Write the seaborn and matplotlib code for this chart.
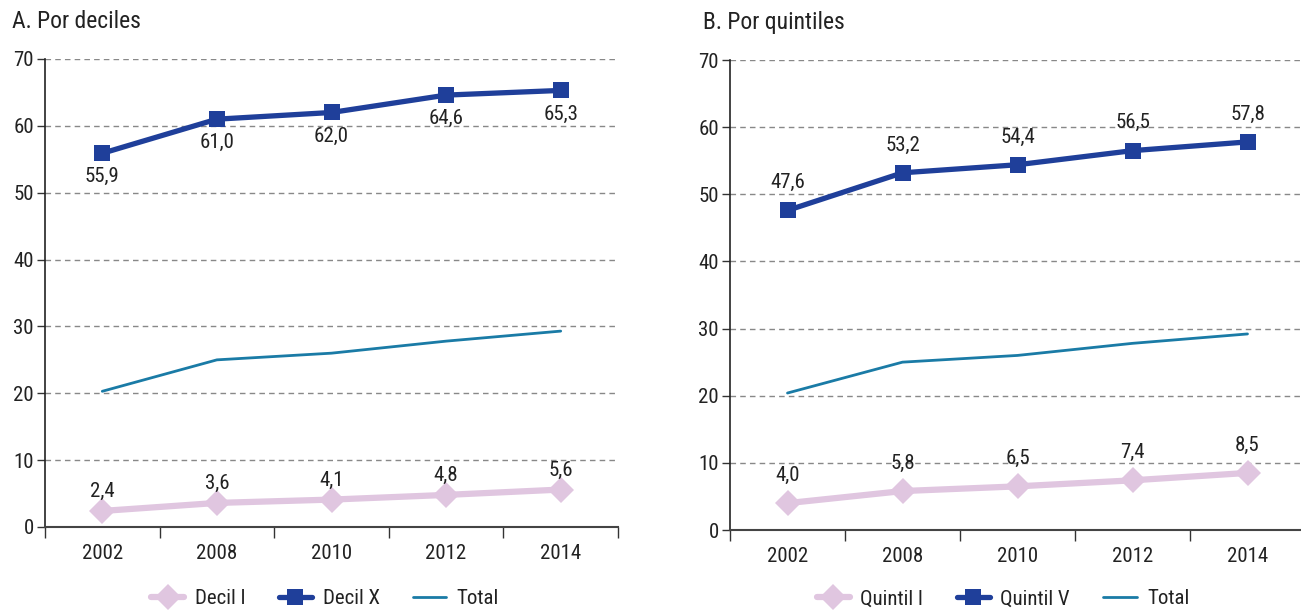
import matplotlib
matplotlib.use("Agg")
import matplotlib.pyplot as plt
import seaborn as sns
import pandas as pd

years = ["2002", "2008", "2010", "2012", "2014"]
decil_i = [2.4, 3.6, 4.1, 4.8, 5.6]
decil_x = [55.9, 61.0, 62.0, 64.6, 65.3]
total_a = [20.3, 25.0, 26.0, 27.8, 29.3]
quintil_i = [4.0, 5.8, 6.5, 7.4, 8.5]
quintil_v = [47.6, 53.2, 54.4, 56.5, 57.8]
total_b = [20.4, 25.0, 26.0, 27.8, 29.2]
yticks = [0, 10, 20, 30, 40, 50, 60, 70]

sns.set_theme(style="white")
plt.rcParams['font.family'] = ['Liberation Sans Narrow', 'Roboto Condensed', 'DejaVu Sans']
plt.rcParams['text.color'] = '#222222'

C_LOW = "#E0C6E0"
C_HIGH = "#1F3F9A"
C_TOT = "#1A7BA6"
FS = 15

fig = plt.figure(figsize=(13.01, 6.10), dpi=100)
axA = fig.add_axes([45/1301, 1-527/610, (618-45)/1301, (527-59)/610])
axB = fig.add_axes([730/1301, 1-530/610, (1305-730)/1301, (530-60)/610])

def fmt(v):
    return f"{v:.1f}".replace(".", ",")

def panel(ax, low, high, tot, low_name, high_name, high_above, low_off, high_off):
    df = pd.DataFrame({"year": years, low_name: low, high_name: high, "Total": tot})
    sns.lineplot(data=df, x="year", y=low_name, ax=ax, color=C_LOW, lw=4.5,
                 marker="D", markersize=13, markeredgewidth=0, label=low_name, sort=False)
    sns.lineplot(data=df, x="year", y=high_name, ax=ax, color=C_HIGH, lw=3.8,
                 marker="s", markersize=11.5, markeredgewidth=0, label=high_name, sort=False)
    sns.lineplot(data=df, x="year", y="Total", ax=ax, color=C_TOT, lw=2.0,
                 label="Total", sort=False)
    for i, v in enumerate(low):
        ax.annotate(fmt(v), (i, v), xytext=(0, low_off), textcoords="offset points",
                    ha="center", va="center", fontsize=FS)
    for i, v in enumerate(high):
        off = high_off if high_above else -high_off
        ax.annotate(fmt(v), (i, v), xytext=(0, off), textcoords="offset points",
                    ha="center", va="center", fontsize=FS)
    ax.set_xlim(-0.5, 4.5)
    ax.set_ylim(0, 70)
    ax.set_yticks(yticks)
    ax.set_xticks(range(len(years)))
    ax.set_xticklabels(years)
    ax.set_xticks([i - 0.5 for i in range(len(years) + 1)], minor=True)
    ax.tick_params(axis="x", which="major", length=0, labelsize=FS, pad=12, colors="#222222")
    ax.tick_params(axis="x", which="minor", length=8, width=1.0, color="#333333", direction="out", bottom=True)
    ax.tick_params(axis="y", length=6, width=1.0, color="#333333", direction="out", left=True,
                   labelsize=FS, pad=2, colors="#222222")
    ax.set_xlabel("")
    ax.set_ylabel("")
    for y in yticks[1:]:
        ax.axhline(y, color="#888888", lw=1.0, ls=(0, (4, 3)), zorder=0)
    for s in ["top", "right"]:
        ax.spines[s].set_visible(False)
    ax.spines["left"].set_color("#222222")
    ax.spines["left"].set_linewidth(1.2)
    ax.spines["bottom"].set_color("#444444")
    ax.spines["bottom"].set_linewidth(1.5)
    ax.get_legend().remove()
    h, l = ax.get_legend_handles_labels()
    return h, l

hA, lA = panel(axA, decil_i, decil_x, total_a, "Decil I", "Decil X", False, 14, 17)
hB, lB = panel(axB, quintil_i, quintil_v, total_b, "Quintil I", "Quintil V", True, 20, 20)

fig.legend(hA, lA, loc="center", bbox_to_anchor=(325/1301, 1-599/610), ncol=3, frameon=False,
           fontsize=FS, handlelength=1.6, columnspacing=1.6, handletextpad=0.5)
fig.legend(hB, lB, loc="center", bbox_to_anchor=(1003/1301, 1-599/610), ncol=3, frameon=False,
           fontsize=FS, handlelength=1.6, columnspacing=1.6, handletextpad=0.5)

fig.text(12/1301, 1-22/610, "A. Por deciles", fontsize=17, va="center", ha="left")
fig.text(703/1301, 1-22/610, "B. Por quintiles", fontsize=17, va="center", ha="left")

fig.savefig("out.png", dpi=100)
